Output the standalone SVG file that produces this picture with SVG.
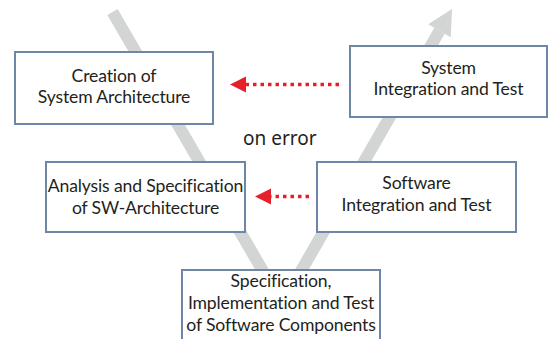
<svg xmlns="http://www.w3.org/2000/svg" width="548" height="339" viewBox="0 0 548 339">
  <style>
    .box { fill: #ffffff; stroke: #7086a6; stroke-width: 2; }
    .label { font-family: Lato, "Open Sans", sans-serif; font-size: 17.6px; letter-spacing: -0.15px; fill: #231f20; text-anchor: middle; }
    .note { font-family: "Noto Sans", sans-serif; font-size: 19px; fill: #231f20; }
    .flow { fill: none; stroke: #d3d4d4; stroke-width: 12; stroke-linejoin: miter; }
    .back { fill: none; stroke: #e5202b; stroke-width: 3.5; stroke-dasharray: 3.5 4; }
    .backhead { fill: #e5202b; }
  </style>

  <!-- V-model flow -->
  <g id="connectors">
    <polyline class="flow" points="112.5,12 282,304 439.5,30.7"/>
    <polygon fill="#d3d4d4" points="452,9 428.2,24.2 450.8,37.2"/>
    <line class="back" x1="339" y1="84.5" x2="246" y2="84.5"/>
    <polygon class="backhead" points="230,84.5 246,76.5 246,92.5"/>
    <line class="back" x1="309" y1="196.5" x2="270" y2="196.5"/>
    <polygon class="backhead" points="255,196.5 271,188.5 271,204.5"/>
  </g>

  <text class="note" x="243" y="145">on error</text>

  <g id="sys-arch">
    <rect class="box" x="15" y="52" width="198" height="72"/>
    <text class="label" x="114" y="82">Creation of</text>
    <text class="label" x="114" y="103">System Architecture</text>
  </g>

  <g id="sys-int">
    <rect class="box" x="350" y="46" width="197" height="71"/>
    <text class="label" x="448.5" y="74">System</text>
    <text class="label" x="448.5" y="95">Integration and Test</text>
  </g>

  <g id="sw-arch">
    <rect class="box" x="46" y="162" width="199" height="70"/>
    <text class="label" x="145.5" y="192">Analysis and Specification</text>
    <text class="label" x="145.5" y="214">of SW-Architecture</text>
  </g>

  <g id="sw-int">
    <rect class="box" x="317" y="162" width="199" height="70"/>
    <text class="label" x="416.5" y="189">Software</text>
    <text class="label" x="416.5" y="211">Integration and Test</text>
  </g>

  <g id="sw-comp">
    <rect class="box" x="182" y="270" width="198" height="80"/>
    <text class="label" x="281" y="287">Specification,</text>
    <text class="label" x="281" y="309">Implementation and Test</text>
    <text class="label" x="281" y="331">of Software Components</text>
  </g>
</svg>
